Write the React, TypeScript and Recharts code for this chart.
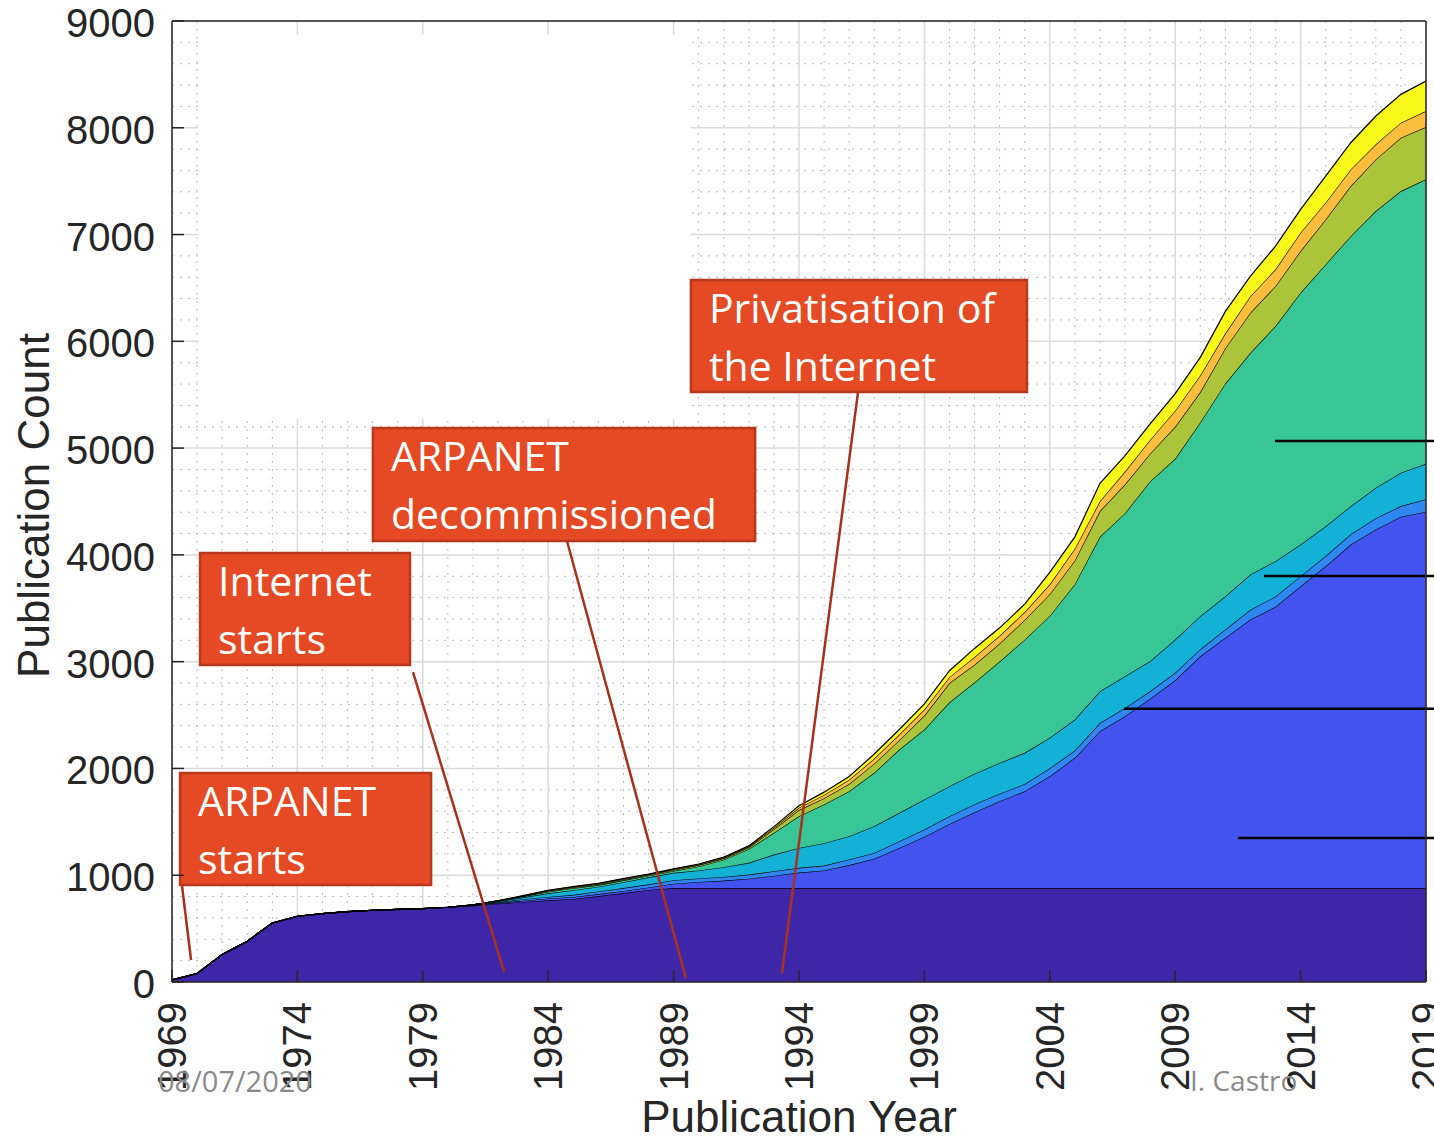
import React from "react";
import {
  AreaChart,
  Area,
  XAxis,
  YAxis,
  CartesianGrid,
  ReferenceArea,
  ReferenceLine,
  Label,
} from "recharts";

// ---------- data (publication counts, stacked layers, 1969-2019) ----------
const years = [
  1969, 1970, 1971, 1972, 1973, 1974, 1975, 1976, 1977, 1978, 1979, 1980, 1981,
  1982, 1983, 1984, 1985, 1986, 1987, 1988, 1989, 1990, 1991, 1992, 1993, 1994,
  1995, 1996, 1997, 1998, 1999, 2000, 2001, 2002, 2003, 2004, 2005, 2006, 2007,
  2008, 2009, 2010, 2011, 2012, 2013, 2014, 2015, 2016, 2017, 2018, 2019,
];

const purpleCounts = [
  20, 80, 257, 381, 553, 616, 641, 659, 672, 681, 688, 700, 715, 734, 750, 765,
  778, 805, 833, 862, 880, 880, 880, 880, 880, 880, 880, 880, 880, 880, 880, 880,
  880, 880, 880, 880, 880, 880, 880, 880, 880, 880, 880, 880, 880, 880, 880, 880,
  880, 880, 880,
];
const blueCounts = [
  0, 0, 0, 0, 0, 0, 0, 0, 0, 0, 0, 0, 2, 6, 12, 17, 19, 18, 19, 23, 40, 57, 70,
  88, 115, 145, 165, 215, 275, 375, 480, 600, 710, 813, 906, 1047, 1219, 1469,
  1609, 1772, 1946, 2171, 2343, 2515, 2634, 2827, 3014, 3217, 3358, 3477, 3524,
];
const brightBlueCounts = [
  0, 0, 0, 0, 0, 0, 0, 0, 0, 0, 0, 0, 2, 6, 13, 15, 19, 25, 28, 30, 33, 33, 34,
  38, 42, 44, 45, 52, 54, 63, 68, 72, 75, 70, 68, 75, 68, 76, 78, 72, 70, 66, 78,
  92, 96, 94, 95, 96, 105, 100, 118,
];
const cyanCounts = [
  0, 0, 0, 0, 0, 0, 0, 0, 0, 0, 0, 0, 3, 9, 18, 33, 43, 45, 55, 65, 69, 74, 91,
  110, 156, 187, 210, 218, 250, 266, 281, 282, 285, 289, 292, 285, 291, 298, 297,
  280, 312, 309, 312, 329, 331, 296, 280, 263, 285, 312, 331,
];
const greenCounts = [
  0, 0, 0, 0, 0, 0, 0, 0, 0, 0, 0, 0, 1, 3, 9, 15, 19, 15, 17, 15, 18, 38, 70,
  129, 204, 296, 362, 422, 500, 593, 656, 786, 855, 950, 1060, 1141, 1267, 1446,
  1527, 1684, 1692, 1814, 1992, 2077, 2202, 2358, 2451, 2529, 2592, 2638, 2664,
];
const oliveCounts = [
  0, 0, 0, 0, 0, 0, 0, 0, 0, 0, 0, 0, 0, 1, 3, 7, 8, 8, 8, 8, 10, 13, 13, 15,
  33, 58, 58, 68, 86, 88, 130, 180, 165, 167, 185, 204, 222, 241, 270, 260, 300,
  285, 330, 375, 374, 390, 422, 469, 484, 500, 490,
];
const orangeCounts = [
  0, 0, 0, 0, 0, 0, 0, 0, 0, 0, 0, 0, 0, 0, 2, 4, 4, 4, 5, 4, 5, 5, 6, 8, 15, 22,
  32, 38, 47, 53, 57, 55, 74, 74, 74, 93, 111, 93, 120, 129, 150, 155, 140, 155,
  157, 172, 156, 156, 141, 141, 150,
];
const yellowCounts = [
  0, 0, 0, 0, 0, 0, 0, 0, 0, 0, 0, 0, 0, 1, 2, 3, 3, 3, 3, 3, 4, 5, 6, 7, 10, 18,
  26, 32, 43, 47, 53, 60, 80, 74, 74, 111, 111, 167, 148, 149, 160, 170, 205, 188,
  218, 219, 249, 250, 265, 265, 281,
];

const xTicks = [1969, 1974, 1979, 1984, 1989, 1994, 1999, 2004, 2009, 2014, 2019];
const yTicks = [0, 1000, 2000, 3000, 4000, 5000, 6000, 7000, 8000, 9000];
const xMinor = years.filter((y) => !xTicks.includes(y));
const yMinor = [
  200, 400, 600, 800, 1200, 1400, 1600, 1800, 2200, 2400, 2600, 2800, 3200, 3400,
  3600, 3800, 4200, 4400, 4600, 4800, 5200, 5400, 5600, 5800, 6200, 6400, 6600,
  6800, 7200, 7400, 7600, 7800, 8200, 8400, 8600, 8800,
];

const seriesKeys = ["s1", "s2", "s3", "s4", "s5", "s6", "s7", "s8"];
const seriesColors = [
  "#3e26a8",
  "#4353ef",
  "#2f88f2",
  "#14b1d6",
  "#39c697",
  "#abc43a",
  "#fbbd3c",
  "#f8f91a",
];
const seriesArrays = [
  purpleCounts,
  blueCounts,
  brightBlueCounts,
  cyanCounts,
  greenCounts,
  oliveCounts,
  orangeCounts,
  yellowCounts,
];

const data = years.map((year, i) => {
  const row: any = { year };
  seriesKeys.forEach((k, j) => (row[k] = seriesArrays[j][i]));
  return row;
});

// annotations in data coordinates (year, count)
const annotations = [
  {
    lines: ["Privatisation of", "the Internet"],
    box: { x1: 1989.69, x2: 2003.09, y1: 5525, y2: 6574 },
    leader: [
      { x: 1996.35, y: 5516 },
      { x: 1993.32, y: 84 },
    ],
  },
  {
    lines: ["ARPANET", "decommissioned"],
    box: { x1: 1977.01, x2: 1992.25, y1: 4130, y2: 5188 },
    leader: [
      { x: 1984.75, y: 4130 },
      { x: 1989.49, y: 37 },
    ],
  },
  {
    lines: ["Internet", "starts"],
    box: { x1: 1970.12, x2: 1978.49, y1: 2969, y2: 4018 },
    leader: [
      { x: 1978.61, y: 2903 },
      { x: 1982.24, y: 94 },
    ],
  },
  {
    lines: ["ARPANET", "starts"],
    box: { x1: 1969.32, x2: 1979.33, y1: 908, y2: 1957 },
    leader: [
      { x: 1969.4, y: 899 },
      { x: 1969.76, y: 206 },
    ],
  },
];

const pointerLines = [
  { x1: 2012.98, x2: 2019.35, y: 5066 },
  { x1: 2012.54, x2: 2019.35, y: 3802 },
  { x1: 2006.96, x2: 2019.35, y: 2560 },
  { x1: 2011.5, x2: 2019.35, y: 1349 },
];

// white patch over the grid at top-left (as on the slide), with gaps for the top tick marks
const coverMain = { x1: 1970.05, x2: 1989.66, y1: 5270, y2: 8870 };
const coverTopStrips = [
  [1970.05, 1973.92],
  [1974.08, 1978.92],
  [1979.08, 1983.92],
  [1984.08, 1988.92],
  [1989.08, 1989.66],
];

const AXIS_FONT = '"Liberation Sans", Arial, Helvetica, sans-serif';
const NOTE_FONT = '"Open Sans", "Noto Sans", sans-serif';
const AXIS_COLOR = "#262626";

const XTick = (props: any) => {
  const { x, y, payload } = props;
  return (
    <text
      x={x}
      y={y}
      transform={`rotate(-90 ${x} ${y})`}
      textAnchor="end"
      dominantBaseline="central"
      fontSize={40}
      fontFamily={AXIS_FONT}
      fill={AXIS_COLOR}
    >
      {payload.value}
    </text>
  );
};

const YTick = (props: any) => {
  const { x, y, payload } = props;
  return (
    <text
      x={x}
      y={y + 2}
      textAnchor="end"
      dominantBaseline="central"
      fontSize={40}
      fontFamily={AXIS_FONT}
      fill={AXIS_COLOR}
    >
      {payload.value}
    </text>
  );
};

const noteLabel = (lines: string[]) => (props: any) => {
  const vb = props.viewBox || {};
  const x = vb.x + 18;
  const y = vb.y;
  return (
    <g>
      {lines.map((t, i) => (
        <text
          key={i}
          x={x}
          y={y + 43 + i * 58}
          fill="#ffffff"
          fontSize={41}
          fontFamily={NOTE_FONT}
        >
          {t}
        </text>
      ))}
    </g>
  );
};

export default function App() {
  return (
    <div
      style={{
        position: "absolute",
        left: 0,
        top: 0,
        width: 1434,
        height: 1138,
        overflow: "hidden",
        background: "#ffffff",
      }}
    >
      <AreaChart
        width={1434}
        height={1138}
        data={data}
        margin={{ top: 0, right: 0, bottom: 0, left: 0 }}
      >
        <CartesianGrid
          horizontalValues={yMinor}
          verticalValues={xMinor}
          stroke="#bcbcbc"
          strokeDasharray="2 6"
          strokeWidth={1}
        />
        <CartesianGrid
          horizontalValues={yTicks}
          verticalValues={xTicks}
          stroke="#dadada"
          strokeWidth={1.5}
        />
        <XAxis
          dataKey="year"
          type="number"
          domain={[1969, 2019]}
          ticks={xTicks}
          interval={0}
          height={156}
          tickSize={-12}
          tickMargin={32}
          tick={XTick}
          stroke={AXIS_COLOR}
          strokeWidth={1.5}
          allowDataOverflow
        >
          <Label
            content={(p: any) => {
              const vb = p.viewBox || {};
              return (
                <text
                  x={vb.x + vb.width / 2}
                  y={1132}
                  textAnchor="middle"
                  fontSize={44}
                  fontFamily={AXIS_FONT}
                  fill={AXIS_COLOR}
                >
                  Publication Year
                </text>
              );
            }}
          />
        </XAxis>
        <XAxis
          xAxisId="top"
          dataKey="year"
          type="number"
          orientation="top"
          domain={[1969, 2019]}
          ticks={xTicks}
          interval={0}
          height={21}
          tickSize={-12}
          tick={false}
          stroke={AXIS_COLOR}
          strokeWidth={1.5}
          allowDataOverflow
        />
        <YAxis
          type="number"
          domain={[0, 9000]}
          ticks={yTicks}
          interval={0}
          width={172}
          tickSize={-12}
          tickMargin={29}
          tick={YTick}
          stroke={AXIS_COLOR}
          strokeWidth={1.5}
          allowDataOverflow
        >
          <Label
            content={(p: any) => {
              const vb = p.viewBox || {};
              const cy = vb.y + vb.height / 2 + 4;
              return (
                <text
                  x={49}
                  y={cy}
                  transform={`rotate(-90 49 ${cy})`}
                  textAnchor="middle"
                  fontSize={44}
                  fontFamily={AXIS_FONT}
                  fill={AXIS_COLOR}
                >
                  Publication Count
                </text>
              );
            }}
          />
        </YAxis>
        <YAxis
          yAxisId="right"
          orientation="right"
          type="number"
          domain={[0, 9000]}
          ticks={yTicks}
          interval={0}
          width={8}
          tickSize={-12}
          tick={false}
          stroke={AXIS_COLOR}
          strokeWidth={1.5}
          allowDataOverflow
        />

        <ReferenceArea
          x1={coverMain.x1}
          x2={coverMain.x2}
          y1={coverMain.y1}
          y2={coverMain.y2}
          fill="#ffffff"
          fillOpacity={1}
          stroke="none"
          ifOverflow="visible"
        />
        {coverTopStrips.map((s, i) => (
          <ReferenceArea
            key={"c" + i}
            x1={s[0]}
            x2={s[1]}
            y1={coverMain.y2 - 5}
            y2={8993}
            fill="#ffffff"
            fillOpacity={1}
            stroke="none"
            ifOverflow="visible"
          />
        ))}

        {seriesKeys.map((k, i) => (
          <Area
            key={k}
            type="linear"
            dataKey={k}
            stackId="stack"
            stroke="#000000"
            strokeWidth={1.2}
            fill={seriesColors[i]}
            fillOpacity={1}
            dot={false}
            activeDot={false}
            isAnimationActive={false}
          />
        ))}

        {pointerLines.map((l, i) => (
          <ReferenceLine
            key={"p" + i}
            segment={[
              { x: l.x1, y: l.y },
              { x: l.x2, y: l.y },
            ]}
            stroke="#000000"
            strokeWidth={2.5}
            ifOverflow="visible"
          />
        ))}

        {annotations.map((a, i) => (
          <ReferenceArea
            key={"b" + i}
            x1={a.box.x1}
            x2={a.box.x2}
            y1={a.box.y1}
            y2={a.box.y2}
            fill="#e54a24"
            fillOpacity={1}
            stroke="#b9381c"
            strokeWidth={2.5}
            ifOverflow="visible"
            label={noteLabel(a.lines)}
          />
        ))}
        {annotations.map((a, i) => (
          <ReferenceLine
            key={"l" + i}
            segment={a.leader}
            stroke="#a83220"
            strokeWidth={2.5}
            ifOverflow="visible"
          />
        ))}
      </AreaChart>
      <div
        style={{
          position: "absolute",
          left: 158,
          top: 1061,
          fontFamily: NOTE_FONT,
          fontSize: 29,
          color: "#8a8a8a",
          whiteSpace: "nowrap",
          lineHeight: "normal",
        }}
      >
        08/07/2020
      </div>
      <div
        style={{
          position: "absolute",
          left: 1190,
          top: 1061,
          fontFamily: NOTE_FONT,
          fontSize: 28,
          color: "#8a8a8a",
          whiteSpace: "nowrap",
          lineHeight: "normal",
        }}
      >
        I. Castro
      </div>
    </div>
  );
}
